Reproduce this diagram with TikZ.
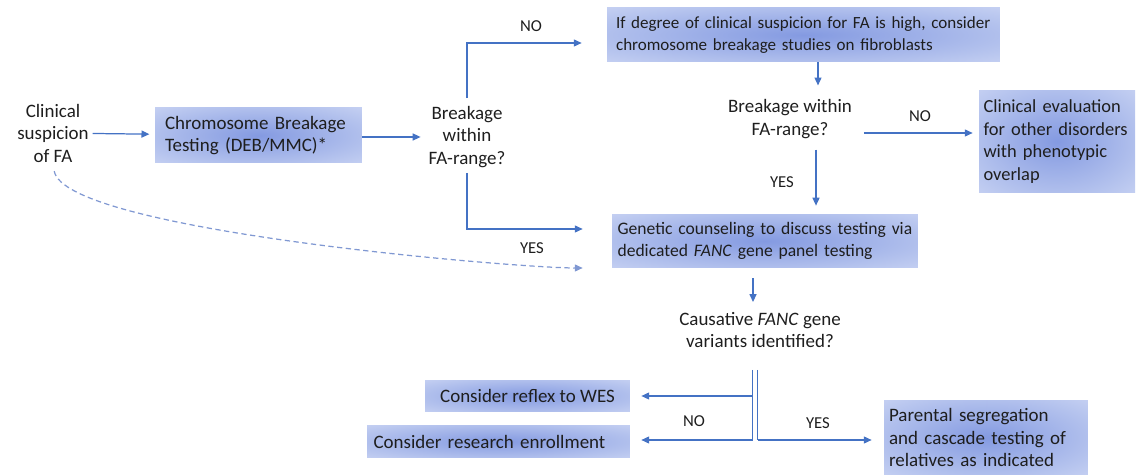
\documentclass[tikz,border=0pt]{standalone}
\usepackage{fontspec}
\setmainfont{Carlito}
\usetikzlibrary{arrows.meta,calc}
\definecolor{flowblue}{RGB}{68,114,196}
\definecolor{dashblue}{RGB}{128,152,210}
\definecolor{boxin}{RGB}{132,154,225}
\definecolor{boxmid}{RGB}{182,196,238}
\definecolor{boxout}{RGB}{222,228,249}
\definecolor{txt}{RGB}{30,30,30}
\pgfdeclareradialshading{boxglow}{\pgfpoint{0bp}{0bp}}{color(0bp)=(boxin); color(28bp)=(boxmid); color(50bp)=(boxout)}

\tikzset{
  flow/.style={draw=flowblue, line width=0.7pt, -{Triangle[length=4.5pt,width=4pt]}},
  plain/.style={draw=flowblue, line width=0.7pt},
  shadebox/.style={shading=boxglow, inner sep=0pt, text=txt, align=left},
  question/.style={text=txt, align=center, inner sep=1pt},
  answer/.style={text=txt, font=\fontsize{9.5}{11}\selectfont},
}

\begin{document}
\begin{tikzpicture}[x=0.02cm, y=-0.02cm, font=\fontsize{10.8}{12.8}\selectfont]
    \useasboundingbox (0,0) rectangle (1138,475);
    % first column
    \node[question] (clin) at (53,133) {Clinical\\suspicion\\of FA};
    \node[shadebox, minimum width=4.14cm, minimum height=1.1cm, text width=3.74cm] (test) at (258.5,135.5) {Chromosome Breakage\\Testing (DEB/MMC)*};
    \node[question] (br1) at (467,137) {Breakage\\within\\FA-range?};
    % upper branch
    \node[shadebox, minimum width=7.86cm, minimum height=1.08cm, text width=7.5cm,
          font=\fontsize{9.7}{12.4}\selectfont] (fibro) at (803.5,35) {If degree of clinical suspicion for FA is high, consider\\chromosome breakage studies on fibroblasts};
    \node[question] (br2) at (790,119) {Breakage within\\FA-range?};
    \node[shadebox, minimum width=3.12cm, minimum height=2.06cm, text width=2.94cm,
          font=\fontsize{10.5}{12.9}\selectfont] (evalu) at (1057,141.5) {Clinical evaluation\\for other disorders\\with phenotypic\\overlap};
    \node[shadebox, minimum width=6.12cm, minimum height=1.08cm, text width=5.9cm,
          font=\fontsize{10}{12.4}\selectfont] (couns) at (765,241) {Genetic counseling to discuss testing via\\dedicated \textit{FANC} gene panel testing};
    \node[question] (caus) at (760,330) {Causative \textit{FANC} gene\\variants identified?};
    % results
    \node[shadebox, minimum width=4.1cm, minimum height=0.64cm, align=center] (wes) at (527.5,396) {Consider reflex to WES};
    \node[shadebox, minimum width=5.26cm, minimum height=0.66cm, text width=5.0cm] (enrol) at (498.5,441.5) {Consider research enrollment};
    \node[shadebox, minimum width=4.08cm, minimum height=1.5cm, text width=3.88cm] (paren) at (986,437.5) {Parental segregation\\and cascade testing of\\relatives as indicated};

    \draw[flow, shorten <=1pt, shorten >=3pt] (clin) -- (test);
    \draw[flow, shorten >=0.12cm] (test.east |- 0,137) -- (br1.west |- 0,137);
    \draw[flow, shorten <=0.12cm, shorten >=0.5cm] (br1.north) |- ($(fibro.west)+(0,8)$);
    \draw[flow, shorten <=0.06cm, shorten >=0.58cm] (br1.south) |- ($(couns.west)+(0,-12)$);
    \node[answer] at (531,26) {NO};
    \node[answer] at (532,248) {YES};
    \draw[flow, draw=dashblue, dashed, dash pattern=on 3pt off 2pt, shorten <=0.14cm] (clin.south) to[out=-80, in=180, looseness=0.32] ($(couns.west)+(-29,27)$);
    \draw[flow, shorten >=0.24cm] ($(fibro.south)+(14.5,0)$) coordinate (d1) -- (d1 |- br2.north);
    \draw[flow, shorten <=0.2cm, shorten >=0.12cm] (br2.east |- 0,133) -- (evalu.west |- 0,133);
    \node[answer] at (920,116) {NO};
    \draw[flow, shorten <=0.18cm, shorten >=0.16cm] ($(d1 |- br2.south)+(-2,0)$) coordinate (d3) -- (d3 |- couns.north);
    \node[answer] at (782,182) {YES};
    \draw[flow, shorten <=0.2cm, shorten >=0.16cm] ($(couns.south)+(-12,0)$) coordinate (d2) -- (d2 |- caus.north);
    % split below the question
    \coordinate (sl) at (752.5,370);
    \coordinate (sr) at (757.5,370);
    \draw[plain] (sl) -- ++(0,70);
    \draw[plain] (sr) -- ++(0,70);
    \draw[flow, shorten >=0.22cm] (sl |- wes.east) -- (wes.east);
    \draw[flow, shorten >=0.22cm] ($(sl)+(0,70)$) -- (enrol.east |- 0,440);
    \draw[flow, shorten >=0.24cm] ($(sr)+(0,70)$) -- (paren.west |- 0,440);
    \node[answer] at (694,421) {NO};
    \node[answer] at (818,423) {YES};
\end{tikzpicture}
\end{document}
